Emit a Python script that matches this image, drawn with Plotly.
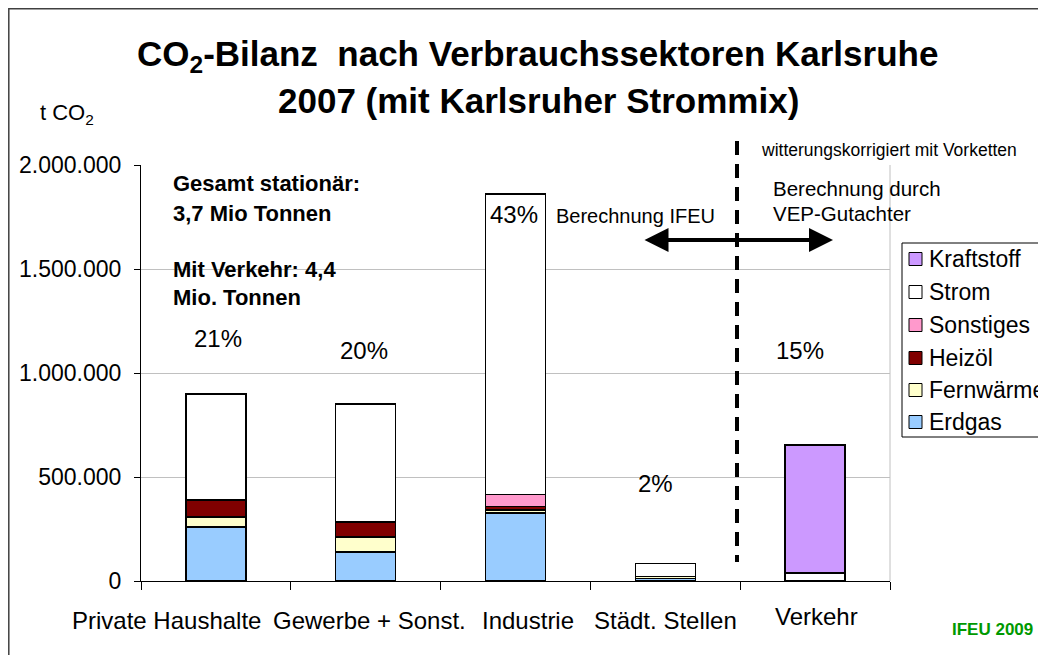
import plotly.graph_objects as go

categories = ["Private Haushalte", "Gewerbe + Sonst.", "Industrie", "Städt. Stellen", "Verkehr"]
erdgas = [260000, 140000, 327000, 12000, None]
fernwaerme = [48000, 72000, 15000, 9000, None]
heizoel = [82000, 72000, 15000, None, None]
sonstiges = [None, None, 58000, None, None]
strom = [510000, 567000, 1445000, 64000, 38000]
kraftstoff = [None, None, None, None, 615000]

series_names = ["Erdgas", "Fernwärme", "Heizöl", "Sonstiges", "Strom", "Kraftstoff"]
series_values = [erdgas, fernwaerme, heizoel, sonstiges, strom, kraftstoff]
series_colors = ["#99CCFF", "#FFFFCC", "#800000", "#FF99CC", "#FFFFFF", "#CC99FF"]

percent_labels = ["21%", "20%", "43%", "2%", "15%"]
percent_y = [1168000, 1106000, 1760000, 471000, 1110000]
percent_xshift = [2, -2, -2, -10, -15]

# category label placement offsets (as in the original, labels are not exactly centred)
label_xshift = [-49, 4, 12, 0, 1]
label_ypix = [620, 620, 620, 620, 616]

y_ticks = [0, 500000, 1000000, 1500000, 2000000]

FONT = "Arial, Liberation Sans, sans-serif"
W, H = 1046, 655
OFF = 8  # page body margin
# plot area in screenshot pixels
L, R, T, B = 141, 890, 165, 581


def X(px):
    return (px - L) / (R - L)


def Y(py):
    return (B - py) / (B - T)


fig = go.Figure()
for name, vals, col in zip(series_names, series_values, series_colors):
    fig.add_trace(go.Bar(
        x=categories, y=vals, name=name, width=0.4,
        marker=dict(color=col, line=dict(color="black", width=1.5)),
        showlegend=False, hoverinfo="x+y+name",
    ))

annotations = []
# Title
annotations.append(dict(xref="paper", yref="paper", x=X(537), y=Y(56), xanchor="center", yanchor="middle",
                        text="<b>CO<sub>2</sub>-Bilanz \u00a0nach Verbrauchssektoren Karlsruhe</b>",
                        showarrow=False, font=dict(family=FONT, size=35, color="black")))
annotations.append(dict(xref="paper", yref="paper", x=X(538), y=Y(100), xanchor="center", yanchor="middle",
                        text="<b>2007 (mit Karlsruher Strommix)</b>",
                        showarrow=False, font=dict(family=FONT, size=35, color="black")))
# y unit
annotations.append(dict(xref="paper", yref="paper", x=X(38), y=Y(114), xanchor="left", yanchor="middle",
                        text="t CO<sub>2</sub>", showarrow=False, font=dict(family=FONT, size=22, color="black")))
# category labels
for cat, xs, py in zip(categories, label_xshift, label_ypix):
    annotations.append(dict(x=cat, xref="x", yref="paper", y=Y(py), xshift=xs, text=cat, showarrow=False,
                            xanchor="center", yanchor="middle", font=dict(family=FONT, size=24, color="black")))
# Notes
for txt, py in [("Gesamt stationär:", 184), ("3,7 Mio Tonnen", 213), ("Mit Verkehr: 4,4", 269), ("Mio. Tonnen", 297)]:
    annotations.append(dict(xref="paper", yref="paper", x=X(171), y=Y(py), xanchor="left", yanchor="middle",
                            text="<b>" + txt + "</b>", showarrow=False,
                            font=dict(family=FONT, size=22, color="black")))
# percentages
for cat, lab, yv, xs in zip(categories, percent_labels, percent_y, percent_xshift):
    annotations.append(dict(x=cat, y=yv, xref="x", yref="y", text=lab, showarrow=False, xshift=xs,
                            xanchor="center", yanchor="middle", font=dict(family=FONT, size=24, color="black")))
annotations.append(dict(xref="paper", yref="paper", x=X(554), y=Y(216), xanchor="left", yanchor="middle",
                        text="Berechnung IFEU", showarrow=False, font=dict(family=FONT, size=20, color="black")))
annotations.append(dict(xref="paper", yref="paper", x=X(771), y=Y(188), xanchor="left", yanchor="middle",
                        text="Berechnung durch", showarrow=False, font=dict(family=FONT, size=20.5, color="black")))
annotations.append(dict(xref="paper", yref="paper", x=X(771), y=Y(213), xanchor="left", yanchor="middle",
                        text="VEP-Gutachter", showarrow=False, font=dict(family=FONT, size=20.5, color="black")))
annotations.append(dict(xref="paper", yref="paper", x=X(889), y=Y(150), xanchor="center", yanchor="middle",
                        text="witterungskorrigiert mit Vorketten", showarrow=False,
                        font=dict(family=FONT, size=17.5, color="black")))
# double arrow
annotations.append(dict(xref="paper", yref="paper", x=X(833), y=Y(240), ax=-190, ay=0,
                        axref="pixel", ayref="pixel", text="", showarrow=True,
                        arrowhead=2, startarrowhead=2, arrowside="end+start", arrowsize=1.2,
                        startarrowsize=1.2, arrowwidth=4, arrowcolor="black"))
# IFEU 2009
annotations.append(dict(xref="paper", yref="paper", x=X(992), y=Y(629), xanchor="center", yanchor="middle",
                        text="<b>IFEU 2009</b>", showarrow=False, font=dict(family=FONT, size=17, color="#009900")))

shapes = []
# outer border
shapes.append(dict(type="rect", xref="paper", yref="paper", x0=X(8.8), x1=X(1070), y0=Y(8.8), y1=Y(680),
                   line=dict(color="#404040", width=1.5), fillcolor="rgba(0,0,0,0)", layer="below"))
# right plot border
shapes.append(dict(type="line", xref="paper", yref="paper", x0=1, x1=1, y0=0, y1=1,
                   line=dict(color="#C0C0C0", width=1)))
# dashed separator
shapes.append(dict(type="line", xref="paper", yref="paper", x0=X(737), x1=X(737), y0=Y(141), y1=Y(562),
                   line=dict(color="black", width=4, dash="14px,9px")))

# manual legend
leg_rows = [("Kraftstoff", 259), ("Strom", 292), ("Sonstiges", 325), ("Heizöl", 358), ("Fernwärme", 390), ("Erdgas", 422)]
shapes.append(dict(type="rect", xref="paper", yref="paper", x0=X(902), x1=X(1075), y0=Y(243), y1=Y(437),
                   line=dict(color="black", width=1), fillcolor="white"))
for name, py in leg_rows:
    col = series_colors[series_names.index(name)]
    shapes.append(dict(type="rect", xref="paper", yref="paper", x0=X(909), x1=X(922), y0=Y(py - 6.5), y1=Y(py + 6.5),
                       line=dict(color="black", width=1), fillcolor=col))
    annotations.append(dict(xref="paper", yref="paper", x=X(927), y=Y(py), xanchor="left", yanchor="middle",
                            text=name, showarrow=False, font=dict(family=FONT, size=23, color="black")))

fig.update_layout(
    width=W, height=H,
    margin=dict(l=L - OFF, r=W - (R - OFF), t=T - OFF, b=H - (B - OFF), autoexpand=False),
    barmode="stack",
    paper_bgcolor="white", plot_bgcolor="white",
    separators=",.",
    font=dict(family=FONT, size=23, color="black"),
    xaxis=dict(type="category", range=[-0.5, len(categories) - 0.5], autorange=False,
               showline=True, linecolor="black", linewidth=1.2,
               ticks="outside", tickson="boundaries", ticklen=8, tickcolor="black",
               showticklabels=False, showgrid=False),
    yaxis=dict(range=[0, 2000000], autorange=False, tickvals=y_ticks, tickformat=",d", showline=True,
               linecolor="black", linewidth=1.2, ticks="outside", ticklen=6, tickcolor="black",
               gridcolor="#C0C0C0", gridwidth=1, tickfont=dict(size=23), ticklabelstandoff=8,
               zeroline=False),
    annotations=annotations, shapes=shapes,
)

fig.write_html("out.html")
